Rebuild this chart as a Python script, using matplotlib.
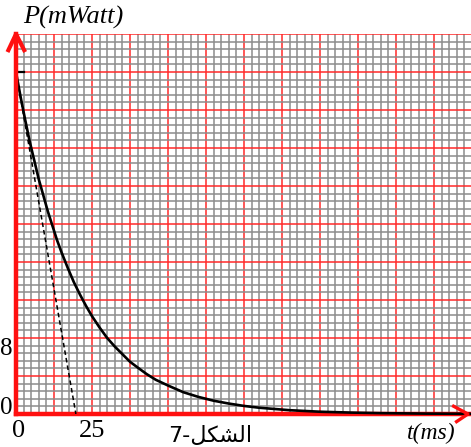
import numpy as np
import matplotlib.pyplot as plt
from matplotlib.ticker import MultipleLocator

t_ms = [0, 1.5, 3, 4.5, 6, 7.5, 9, 10.5, 12, 13.5, 15, 17, 19, 21, 23, 25,
        27.5, 30, 32.5, 35, 37.5, 40, 43, 46, 50, 55, 60, 65, 70, 75, 80,
        90, 100, 110, 120, 135, 150]
P_mW = [36, 33.4, 31.0, 28.7, 26.7, 24.7, 23.0, 21.3, 19.8, 18.3, 17.0, 15.4,
        13.9, 12.6, 11.4, 10.3, 9.1, 8.0, 7.1, 6.3, 5.5, 4.9, 4.2, 3.6, 3.0,
        2.3, 1.8, 1.4, 1.1, 0.85, 0.66, 0.40, 0.24, 0.15, 0.09, 0.04, 0.02]

# Tangente à l'origine (pointillés)
tan_t = [0, 19.7]
tan_P = [36, 0]

# Petit trait horizontal en haut de la courbe
top_t = [0, 2.6]
top_P = [36, 36]

fig = plt.figure(figsize=(4.71, 4.47), dpi=100)
ax = fig.add_axes([16/471, 33/447, 455/471, 380/447])
ax.set_xlim(0, 149.7)
ax.set_ylim(0, 40)

# Papier millimétré
ax.xaxis.set_major_locator(MultipleLocator(12.5))
ax.xaxis.set_minor_locator(MultipleLocator(2.5))
ax.yaxis.set_major_locator(MultipleLocator(4))
ax.yaxis.set_minor_locator(MultipleLocator(0.8))
ax.grid(which='minor', color='#8c8c8c', lw=1.1)
ax.grid(which='major', color='#ff2a2a', lw=1.1)
ax.set_axisbelow(True)
ax.tick_params(which='both', length=0, labelbottom=False, labelleft=False)
for s in ax.spines.values():
    s.set_visible(False)

# Courbes
ax.plot(t_ms, P_mW, color='black', lw=1.9, zorder=5, clip_on=False,
        solid_joinstyle='round')
ax.plot(tan_t, tan_P, color='black', lw=1.1, ls=(0, (3, 2)), zorder=5)
ax.plot(top_t, top_P, color='black', lw=1.6, zorder=5)

# Axes rouges avec flèches
red = '#ff1010'
ax.plot([0, 0], [0, 40], color=red, lw=3.2, clip_on=False, zorder=6)
ax.plot([0, 149.7], [0, 0], color=red, lw=3.2, clip_on=False, zorder=4)
ax.plot([-2.8, 0, 3.0], [38.1, 40, 38.1], color=red, lw=3.0,
        clip_on=False, zorder=6, solid_capstyle='butt')
ax.plot([143.5, 148.7, 144.5], [0.9, 0.0, -0.9], color=red, lw=2.4,
        clip_on=False, zorder=6, solid_capstyle='butt')

# Textes
serif = 'Liberation Serif'
ax.text(19, 41.7, 'P(mWatt)', family=serif, style='italic', fontsize=19,
        ha='center', va='center')
ax.text(136.5, -2.0, 't(ms)', family=serif, style='italic', fontsize=17,
        ha='center', va='center')
ax.text(1.0, -0.6, '0', family=serif, fontsize=19, ha='center', va='top')
ax.text(25, -0.6, '25', family=serif, fontsize=19, ha='center', va='top')
ax.text(-5.1, 8.0, '8', family=serif, fontsize=18, ha='left', va='top',
        zorder=7)
ax.text(-5.1, 0.6, '0', family=serif, fontsize=18, ha='left', va='center',
        zorder=7)

# "الشكل-7" en formes de présentation, ordre visuel
fig_label = '7-' + '\uFEDE\uFEDC\uFEB8\uFEDF\uFE8D'
ax.text(63.8, -2.3, fig_label, family=['DejaVu Sans'], fontsize=16,
        ha='center', va='center')

fig.savefig('out.png', dpi=100)
